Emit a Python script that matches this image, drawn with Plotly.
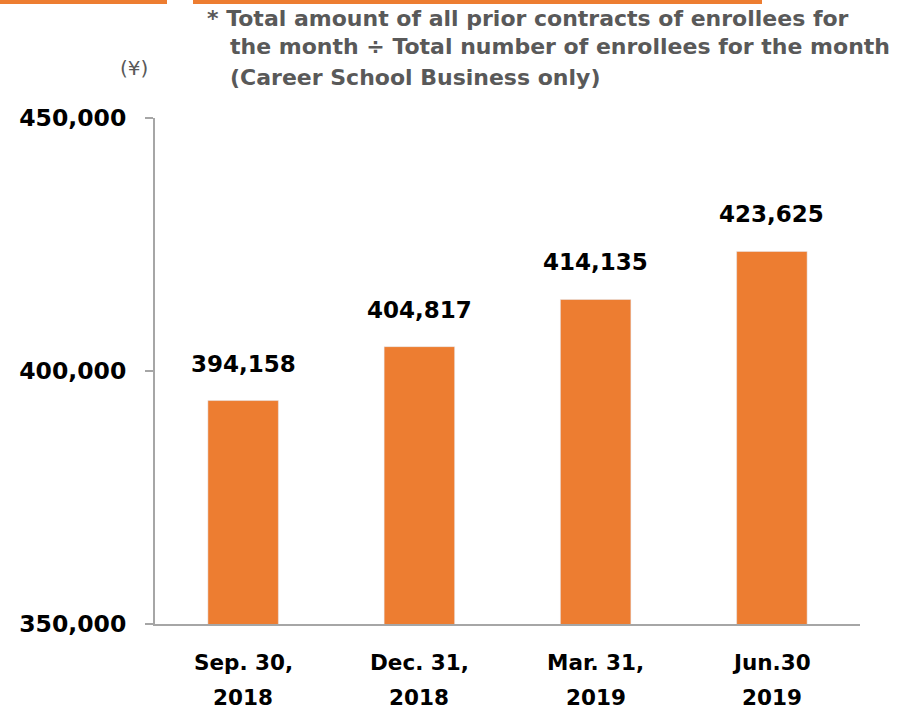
import plotly.graph_objects as go

categories = ["Sep. 30, 2018", "Dec. 31, 2018", "Mar. 31, 2019", "Jun.30 2019"]
cat_line1 = ["Sep. 30,", "Dec. 31,", "Mar. 31,", "Jun.30"]
cat_line2 = ["2018", "2018", "2019", "2019"]
values = [394158, 404817, 414135, 423625]
tick_vals = [350000, 400000, 450000]
tick_text = ["350,000", "400,000", "450,000"]
note_lines = [
    "* Total amount of all prior contracts of enrollees for",
    "the month \u00f7 Total number of enrollees for the month",
    "(Career School Business only)",
]
unit_label = "(\u00a5)"

ORANGE = "#ED7D31"
GRAY = "#595959"
AXIS = "#A6A6A6"
FONT = "DejaVu Sans"

W, H = 910, 711
L, R, T, B = 155, 50, 118, 87
pw, ph = W - L - R, H - T - B

fig = go.Figure()
fig.add_trace(go.Bar(
    x=categories, y=values, marker_color=ORANGE, width=0.4,
    hoverinfo="skip",
))

for c, v in zip(categories, values):
    fig.add_annotation(x=c, y=v, xref="x", yref="y", text=f"<b>{v:,}</b>",
                       showarrow=False, yanchor="bottom", yshift=22,
                       font=dict(family=FONT, size=23, color="#000000"))

for c, a, b in zip(categories, cat_line1, cat_line2):
    fig.add_annotation(x=c, y=0, xref="x", yref="paper", text=f"<b>{a}</b>",
                       showarrow=False, yanchor="middle", yshift=-38,
                       font=dict(family=FONT, size=21.5, color="#000000"))
    fig.add_annotation(x=c, y=0, xref="x", yref="paper", text=f"<b>{b}</b>",
                       showarrow=False, yanchor="middle", yshift=-73,
                       font=dict(family=FONT, size=21.5, color="#000000"))

def px_x(x):
    return (x - L) / pw

def px_y(y):
    return (H - B - y) / ph

note_x = [205, 228, 228]
note_y = [18, 47, 77]
for t, nx, ny in zip(note_lines, note_x, note_y):
    fig.add_annotation(x=px_x(nx), y=px_y(ny), xref="paper", yref="paper",
                       text=f"<b>{t}</b>", showarrow=False,
                       xanchor="left", yanchor="middle",
                       font=dict(family=FONT, size=22, color=GRAY))

fig.add_annotation(x=px_x(134), y=px_y(68), xref="paper", yref="paper",
                   text=unit_label, showarrow=False, xanchor="center", yanchor="middle",
                   font=dict(family=FONT, size=20, color=GRAY))

# decorative header bars at top
fig.add_shape(type="rect", xref="paper", yref="paper",
              x0=px_x(0), x1=px_x(167), y0=px_y(4), y1=px_y(-2),
              fillcolor=ORANGE, line_width=0, layer="above")
fig.add_shape(type="rect", xref="paper", yref="paper",
              x0=px_x(193), x1=px_x(762), y0=px_y(4), y1=px_y(-2),
              fillcolor=ORANGE, line_width=0, layer="above")

fig.update_layout(
    width=W, height=H,
    margin=dict(l=L, r=R, t=T, b=B),
    plot_bgcolor="white", paper_bgcolor="white",
    showlegend=False,
    bargap=0.6,
)
fig.update_xaxes(showticklabels=False, showline=True, linecolor=AXIS, linewidth=2,
                 ticks="", showgrid=False, fixedrange=True)
fig.update_yaxes(range=[350000, 450000], tickvals=tick_vals, ticktext=[f"<b>{t}</b>" for t in tick_text],
                 showline=True, linecolor=AXIS, linewidth=2, ticks="outside", ticklen=8,
                 tickcolor=AXIS, tickwidth=2, showgrid=False, zeroline=False,
                 ticklabelstandoff=14,
                 tickfont=dict(family=FONT, size=23.5, color="#000000"), fixedrange=True)

fig.write_html("out.html", config={"displayModeBar": False},
               post_script="document.body.style.margin='0';document.body.style.overflow='hidden';")
